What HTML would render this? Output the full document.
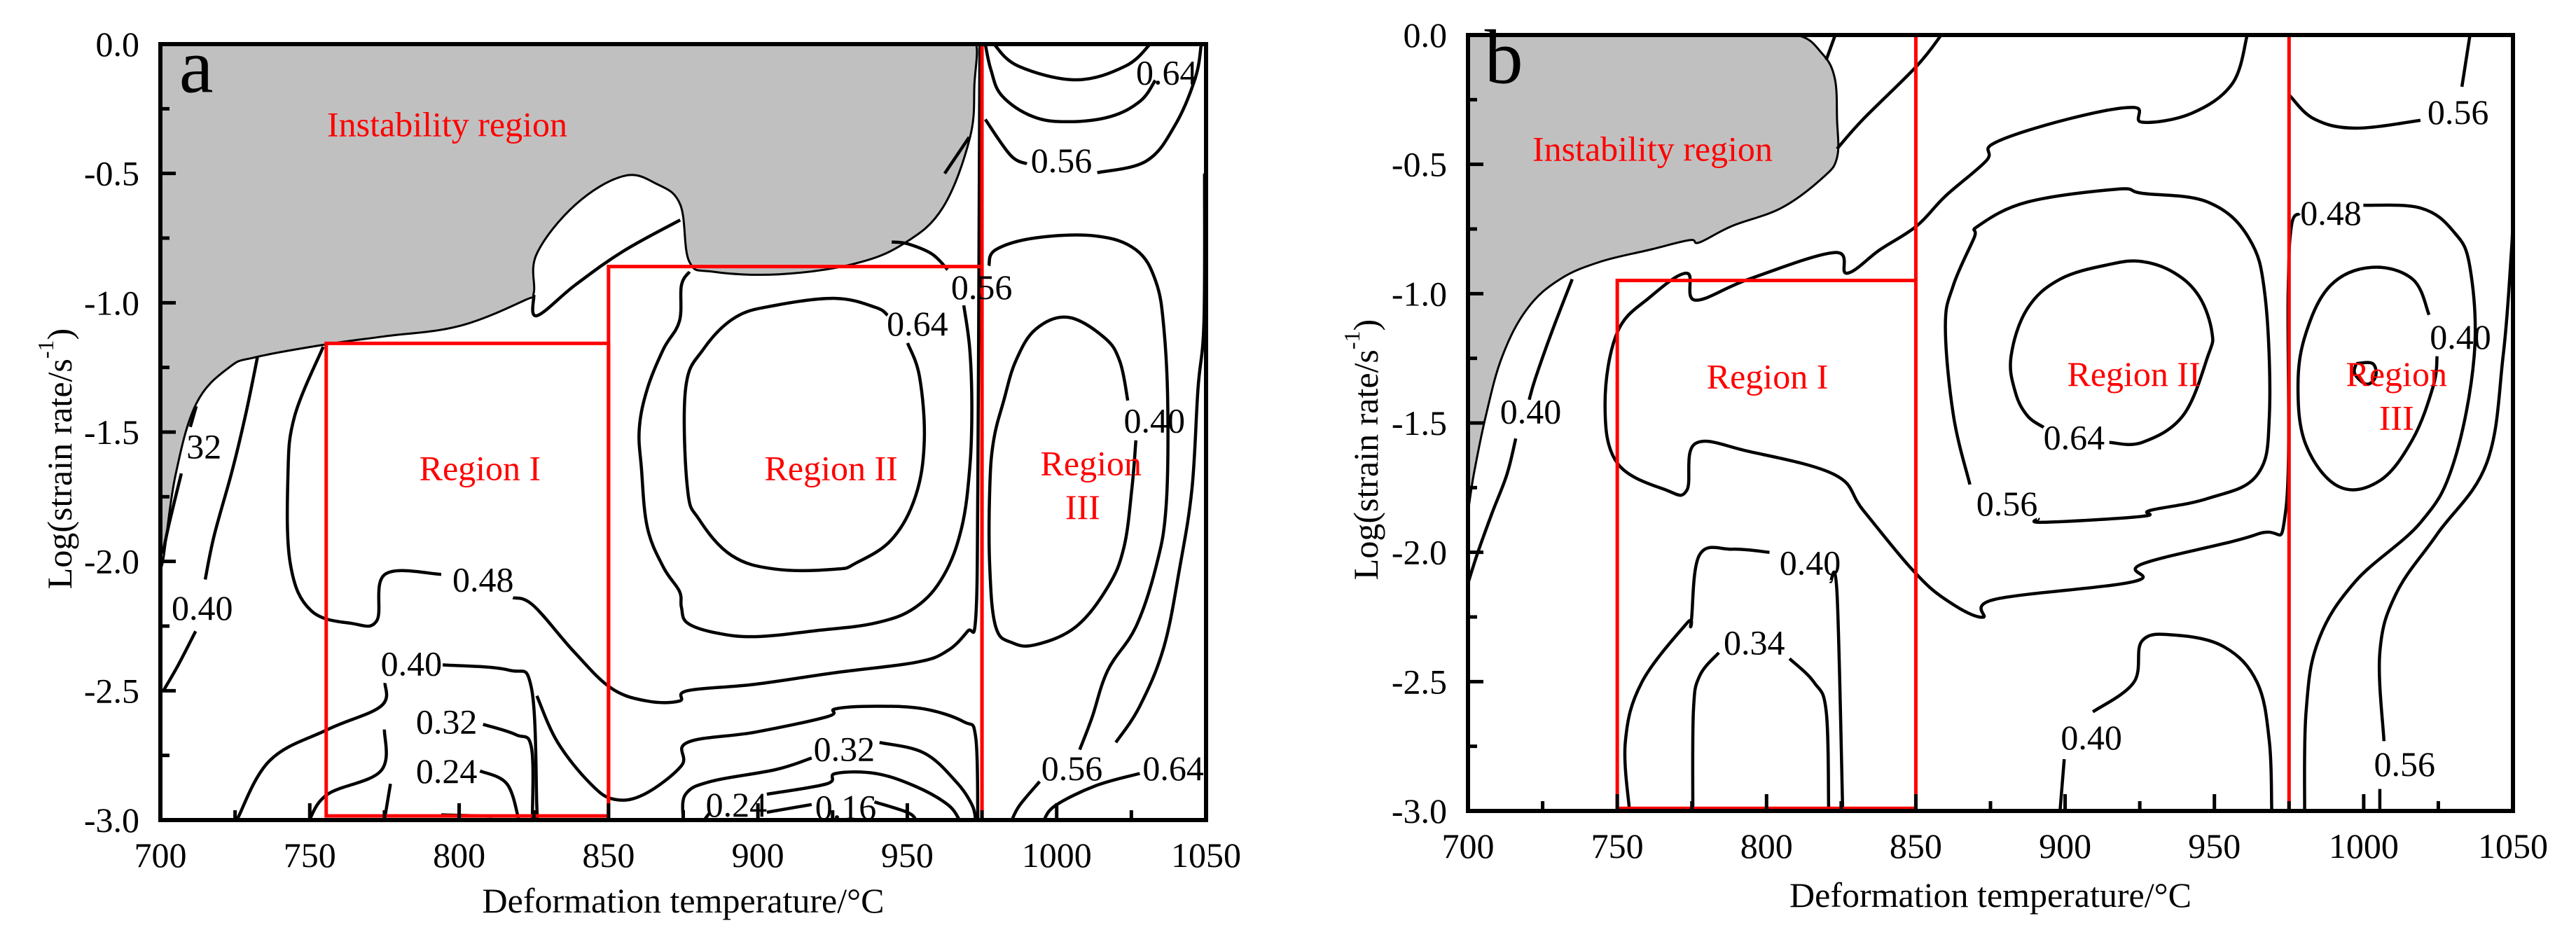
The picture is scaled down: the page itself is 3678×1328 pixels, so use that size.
<!DOCTYPE html>
<html><head><meta charset="utf-8"><style>
html,body{margin:0;padding:0;background:#fff;}
svg{display:block;font-family:"Liberation Serif",serif;}
</style></head><body>
<svg id="fig" width="3678" height="1328" viewBox="0 0 3678 1328" xmlns="http://www.w3.org/2000/svg">
<rect x="0" y="0" width="3678" height="1328" fill="#fff"/>
</svg>
<script>
// ---------- data: panel a ----------
const xTicks = [700,750,800,850,900,950,1000,1050];
const yTicks = [0,-0.5,-1,-1.5,-2,-2.5,-3];
const yTickLabels = ["0.0","-0.5","-1.0","-1.5","-2.0","-2.5","-3.0"];

const aGray = [[700,0],[720,0],[900,0],[968,0],[973,0],[972.5,-0.15],[971,-0.36],[962,-0.63],[949,-0.77],[932,-0.85],[907,-0.89],[885,-0.88],[877,-0.84],[874,-0.62],[866,-0.54],[855,-0.51],[839,-0.62],[826,-0.81],[825,-0.96],[822,-0.99],[800,-1.09],[775,-1.13],[756,-1.16],[732,-1.21],[723,-1.25],[712,-1.39],[705,-1.67],[701,-1.99],[700,-2.0],[700,-1.9]];
const aContours = [
 [[874,-0.68],[855,-0.80],[839,-0.93],[826,-1.05],[825,-0.97]],
 [[732.5,-1.21],[728.4,-1.44],[724,-1.65],[718,-1.90],[715,-2.07]],
 [[711.8,-2.27],[706,-2.40],[701,-2.50]],
 [[712,-1.40],[710,-1.48]],
 [[707,-1.66],[703,-1.85],[700.8,-1.97]],
 [[754.5,-1.17],[744.9,-1.44],[742.7,-1.67],[743.5,-2.01],[750.4,-2.19],[764.2,-2.24],[772.4,-2.23],[775.2,-2.05],[794,-2.05]],
 [[818,-2.14],[824.8,-2.17],[838.5,-2.35],[850.9,-2.49],[863,-2.54],[873.7,-2.54],[876.4,-2.50],[899,-2.475],[926,-2.43],[953,-2.39],[963.5,-2.345],[970.2,-2.27],[972.9,-2.22],[973.6,-1.72],[974,-0.8],[974.3,0]],
 [[775.2,-2.47],[773.8,-2.56],[756,-2.65],[736.6,-2.77],[725.6,-3]],
 [[794.5,-2.40],[816.5,-2.42],[824.2,-2.49],[826,-2.95],[826.1,-3]],
 [[826,-2.52],[833,-2.70],[844,-2.86],[852,-2.92],[862,-2.90],[874.4,-2.79],[876.4,-2.70],[899.2,-2.66],[923.3,-2.60],[926,-2.57],[939.4,-2.56],[955.5,-2.57],[968.9,-2.62],[972.9,-2.68],[973.6,-3]],
 [[875,-3],[875.8,-2.90],[884.5,-2.85],[905.9,-2.805],[918,-2.76]],
 [[940.7,-2.70],[955.5,-2.74],[966.2,-2.85],[971.6,-2.94],[972.9,-3]],
 [[903,-2.90],[923,-2.86],[926,-2.82],[939.4,-2.82],[952.8,-2.87],[963.5,-2.94],[967.5,-3]],
 [[882,-3],[884,-2.97]],
 [[903,-2.97],[918,-2.94]],
 [[939,-2.93],[950,-2.97],[953,-3]],
 [[775,-2.65],[773.8,-2.81],[756,-2.90],[749.8,-3]],
 [[808,-2.63],[819,-2.67],[824.2,-2.72],[824.5,-3]],
 [[777,-2.86],[775,-3]],
 [[807,-2.81],[816,-2.86],[820,-3]],
 [[794,-2.98],[811,-2.985]],
 [[950.1,-1.156],[954.1,-1.286],[955.7,-1.532],[952.8,-1.746],[944.8,-1.915],[932.7,-2.007],[926,-2.03],[905.9,-2.03],[891.2,-1.977],[880.4,-1.839],[876.4,-1.716],[875.8,-1.332],[881.8,-1.179],[892.5,-1.056],[905.9,-1.01],[926,-0.983],[939.4,-1.018],[943.4,-1.048]],
 [[968.9,-1.01],[970.9,-1.179],[971.6,-1.409],[970.9,-1.639],[968.2,-1.869],[962.2,-2.054],[952.8,-2.177],[939.4,-2.238],[919.3,-2.268],[899.2,-2.291],[885.8,-2.276],[876.4,-2.238],[874.4,-2.177],[873.7,-2.115],[868.4,-2.023],[863,-1.869],[861,-1.639],[860.3,-1.486],[863,-1.332],[868.4,-1.179],[873.7,-1.072],[874.4,-0.933],[877.1,-0.88]],
 [[963.5,-0.872],[958.2,-0.811],[950.1,-0.772],[944.8,-0.765]],
 [[1026.5,-1.532],[1025.2,-1.716],[1022.5,-1.946],[1017.1,-2.099],[1006.4,-2.253],[993,-2.322],[985,-2.314],[979.6,-2.253],[977.6,-2.023],[977.6,-1.716],[978.9,-1.532],[982.3,-1.378],[986.3,-1.225],[993,-1.102],[1003.7,-1.056],[1015.8,-1.133],[1021.1,-1.225],[1023.8,-1.378]],
 [[977.3,-0.857],[979.6,-0.795],[993,-0.749],[1013.1,-0.742],[1026.5,-0.795],[1033.2,-0.918],[1035.9,-1.102],[1037.2,-1.409],[1036.6,-1.793],[1033.2,-2.023],[1026.5,-2.253],[1017.1,-2.421],[1011.8,-2.605],[1007.7,-2.728]],
 [[994.3,-2.851],[987.6,-2.943],[985,-3]],
 [[1049.5,-0.5],[1049.3,-1.072],[1047.3,-1.332],[1045.3,-1.716],[1041.2,-2.023],[1035.9,-2.33],[1027.8,-2.56],[1019.8,-2.70]],
 [[1027.8,-2.82],[1013.1,-2.867],[999.7,-2.943],[995.7,-3]],
 [[979,0],[987.2,-0.085],[1006.5,-0.138],[1023,-0.085],[1031.3,0]],
 [[976.1,0],[978,-0.1],[981.7,-0.2],[992,-0.28],[1003.8,-0.30],[1018,-0.28],[1028,-0.22],[1033,-0.14]],
 [[976.1,-0.291],[984.5,-0.429],[990,-0.463]],
 [[1013.6,-0.497],[1030,-0.452],[1039.6,-0.314],[1046.4,-0.131],[1048.4,0]],
 [[962.5,-0.50],[970.7,-0.36]]
];
const aLevelText = ["0.64","0.56","0.56","0.64","0.40","32","0.40","0.48","0.40","0.32","0.24","0.32","0.24","0.16","0.56","0.64"];
const aLevelPos = [[1036.8,-0.11],[1001.6,-0.45],[974.9,-0.94],[953.4,-1.08],[1032.7,-1.455],[714.6,-1.556],[714,-2.18],[808,-2.07],[784,-2.395],[795.8,-2.62],[795.8,-2.81],[928.9,-2.725],[892.8,-2.94],[929.4,-2.95],[1005.1,-2.80],[1039,-2.80]];
const aRectI = [755.5,-1.157,850,-2.984];
const aRectII = [850,-0.86,975,-3];
const aRedLine = [975,0,-3];
const aRegionText = ["Instability region","Region I","Region II","Region","III"];
const aRegionPos = [[796,-0.31],[807,-1.64],[924.5,-1.64],[1011.5,-1.62],[1008.7,-1.79]];

// ---------- data: panel b ----------
const bGray = [[700,0],[720,0],[790,0],[810,0],[818.5,-0.07],[822.8,-0.165],[823.6,-0.325],[823.6,-0.474],[818.5,-0.555],[804.9,-0.669],[788.5,-0.738],[777.5,-0.802],[774.2,-0.793],[761,-0.830],[744.5,-0.876],[730.8,-0.944],[719.8,-1.059],[711.5,-1.242],[706,-1.471],[701.9,-1.701],[700,-1.838],[700,-1.75]];
const bContours = [
 [[734.9,-0.944],[728,-1.15],[722.5,-1.33],[720.5,-1.41]],
 [[716,-1.56],[713,-1.70],[708,-1.85],[703.3,-2.0],[700,-2.12]],
 [[820,-0.096],[823,0]],
 [[823.6,-0.44],[832.4,-0.325],[850.3,-0.12],[858.5,0]],
 [[961,0],[956,-0.188],[942.3,-0.303],[925.8,-0.337],[923,-0.280],[901,-0.325],[876.4,-0.417],[873.6,-0.486],[859.9,-0.623],[850.3,-0.738],[838,-0.830],[826.9,-0.921],[822.8,-0.841],[794,-0.944],[776.1,-1.025],[773.3,-0.921],[761,-1.013],[750,-1.15],[745.9,-1.426],[750,-1.655],[766.5,-1.76],[773.3,-1.76],[776.1,-1.58],[794,-1.61],[822.8,-1.70],[832.4,-1.838],[848.8,-2.067],[859.9,-2.182],[872.2,-2.251],[876.4,-2.182],[923,-2.113],[925.8,-2.045],[964.3,-1.93],[973.9,-1.838],[974.7,-1.0],[975.8,-0.738],[978.5,-0.69]],
 [[999.9,-0.658],[1019.1,-0.669],[1030.1,-0.76],[1035.6,-0.898],[1037,-1.242],[1030.1,-1.655],[1019.1,-1.884],[997.2,-2.113],[984.8,-2.342],[980.7,-2.617],[980.2,-3]],
 [[1050,-0.70],[1049.4,-0.853],[1046.7,-1.242],[1041.2,-1.655],[1024.6,-1.93],[1010.9,-2.159],[1005.4,-2.388],[1006.8,-2.73]],
 [[1005.4,-2.915],[1005.4,-3]],
 [[975.2,-0.234],[983.5,-0.325],[997.2,-0.36],[1019,-0.33]],
 [[1032.9,-0.2],[1035.6,0]],
 [[1021.9,-1.082],[1016.4,-0.944],[1002.7,-0.898],[989,-0.967],[980.7,-1.151],[978,-1.357],[980.7,-1.586],[991.7,-1.746],[1005.4,-1.723],[1016.4,-1.563],[1023.3,-1.357],[1024.6,-1.242]],
 [[997.5,-1.27],[1003,-1.27],[1004,-1.32],[1001,-1.35],[997,-1.31],[997.5,-1.27]],
 [[914.8,-1.575],[925.8,-1.575],[939.5,-1.471],[947.8,-1.242],[949.2,-1.151],[945,-1.013],[936.8,-0.921],[925.8,-0.876],[914.8,-0.887],[898.3,-0.944],[887.3,-1.059],[881.9,-1.242],[883.3,-1.380],[887.3,-1.471],[892.8,-1.517]],
 [[868.1,-1.738],[862.6,-1.471],[859.9,-1.128],[862.6,-0.967],[869.5,-0.784],[870.9,-0.738],[887.3,-0.646],[917.5,-0.596],[925.8,-0.612],[947.8,-0.646],[961.5,-0.784],[967,-1.013],[968.4,-1.471],[964.3,-1.701],[947.8,-1.792],[928.5,-1.838],[925.8,-1.861],[892.8,-1.884],[891,-1.87]],
 [[801,-2.0],[788.5,-1.988],[777.5,-2.011],[774.7,-2.274],[773.3,-2.274],[758.2,-2.503],[752.7,-2.732],[754.1,-3]],
 [[821.4,-2.113],[823.6,-2.159],[825.5,-3]],
 [[807.7,-2.411],[815.9,-2.503],[820,-2.617],[820.8,-3]],
 [[784,-2.388],[777.5,-2.48],[775.5,-2.617],[775.3,-3]],
 [[909.3,-2.617],[923,-2.503],[925.8,-2.342],[936.8,-2.320],[953.3,-2.366],[964.3,-2.503],[968.4,-2.732],[969.2,-3]],
 [[899.7,-2.8],[898.3,-3]]
];
const bLevelText = ["0.56","0.48","0.40","0.40","0.64","0.56","0.40","0.34","0.40","0.56"];
const bLevelPos = [[1031.6,-0.298],[989,-0.688],[1032.4,-1.167],[721,-1.455],[903,-1.556],[880.5,-1.811],[814.6,-2.04],[795.9,-2.349],[908.8,-2.716],[1013.7,-2.819]];
const bRectI = [750,-0.949,850,-2.99];
const bRedLines = [[850,0,-0.949],[975,0,-3]];
const bRegionText = ["Instability region","Region I","Region II","Region","III"];
const bRegionPos = [[761.8,-0.44],[800.3,-1.32],[923,-1.31],[1011,-1.31],[1011,-1.48]];

// ---------- drawing ----------
const NS = "http://www.w3.org/2000/svg";
const svg = document.getElementById("fig");
function el(tag, parent){ const e=document.createElementNS(NS,tag); parent.appendChild(e); return e; }

function smoothPath(pts, sx, sy, closed){
  const p = pts.map(q=>[sx(q[0]), sy(q[1])]);
  if(p.length<3){ return "M"+p.map(q=>q[0].toFixed(1)+","+q[1].toFixed(1)).join(" L"); }
  let d = "M"+p[0][0].toFixed(1)+","+p[0][1].toFixed(1);
  for(let i=0;i<p.length-1;i++){
    const p0=p[Math.max(0,i-1)], p1=p[i], p2=p[i+1], p3=p[Math.min(p.length-1,i+2)];
    const t=0.18;
    const c1=[p1[0]+(p2[0]-p0[0])*t, p1[1]+(p2[1]-p0[1])*t];
    const c2=[p2[0]-(p3[0]-p1[0])*t, p2[1]-(p3[1]-p1[1])*t];
    d+=" C"+c1[0].toFixed(1)+","+c1[1].toFixed(1)+" "+c2[0].toFixed(1)+","+c2[1].toFixed(1)+" "+p2[0].toFixed(1)+","+p2[1].toFixed(1);
  }
  if(closed) d+=" Z";
  return d;
}

function drawPanel(cfg){
  const {id,left,top,right,bottom,gray,contours,levelText,levelPos,regionText,regionPos,letter} = cfg;
  const sx = T => left + (T-700)/350*(right-left);
  const sy = L => top + (-L)/3*(bottom-top);
  const g = el("g", svg);
  
  

  const cp = el("clipPath", g);
  cp.setAttribute("id","clip-"+id);
  const cr = el("rect", cp);
  cr.setAttribute("x",left); cr.setAttribute("y",top);
  cr.setAttribute("width",right-left); cr.setAttribute("height",bottom-top);

  const plot = el("g", g);
  plot.setAttribute("clip-path","url(#clip-"+id+")");
  
  

  const gp = el("path", plot);
  gp.setAttribute("d", smoothPath(gray, sx, sy, true));
  gp.setAttribute("fill","#c0c0c0");
  gp.setAttribute("stroke","#000");
  gp.setAttribute("stroke-width","3");
  
  

  contours.forEach((c,i)=>{
    const p = el("path", plot);
    p.setAttribute("d", smoothPath(c, sx, sy, false));
    p.setAttribute("fill","none");
    p.setAttribute("stroke","#000");
    p.setAttribute("stroke-width","4.5");
    p.setAttribute("stroke-linejoin","round");
    
    
  });

  cfg.rects.forEach((r,i)=>{
    const rr = el("rect", plot);
    rr.setAttribute("x", sx(r[0])); rr.setAttribute("y", sy(r[1]));
    rr.setAttribute("width", sx(r[2])-sx(r[0])); rr.setAttribute("height", sy(r[3])-sy(r[1]));
    rr.setAttribute("fill","none"); rr.setAttribute("stroke","#ff0000"); rr.setAttribute("stroke-width","5");
    
    
  });
  cfg.redLines.forEach((l,i)=>{
    const ln = el("line", plot);
    ln.setAttribute("x1", sx(l[0])); ln.setAttribute("x2", sx(l[0]));
    ln.setAttribute("y1", sy(l[1])); ln.setAttribute("y2", sy(l[2]));
    ln.setAttribute("stroke","#ff0000"); ln.setAttribute("stroke-width","5");
    
    
  });

  levelText.forEach((t,i)=>{
    const tx = el("text", g);
    tx.setAttribute("x", sx(levelPos[i][0])); tx.setAttribute("y", sy(levelPos[i][1]));
    tx.setAttribute("text-anchor","middle"); tx.setAttribute("dominant-baseline","central");
    tx.setAttribute("font-size","50"); tx.setAttribute("fill","#000");
    tx.textContent = t;
    
    
  });
  regionText.forEach((t,i)=>{
    const tx = el("text", g);
    tx.setAttribute("x", sx(regionPos[i][0])); tx.setAttribute("y", sy(regionPos[i][1]));
    tx.setAttribute("text-anchor","middle"); tx.setAttribute("dominant-baseline","central");
    tx.setAttribute("font-size","50"); tx.setAttribute("fill","#ff0000");
    tx.textContent = t;
    
    
  });

  const lt = el("text", g);
  lt.setAttribute("x", sx(712)); lt.setAttribute("y", sy(-0.085));
  lt.setAttribute("text-anchor","middle"); lt.setAttribute("dominant-baseline","central");
  lt.setAttribute("font-size","110"); lt.setAttribute("fill","#000");
  lt.textContent = letter;
  
  

  const fr = el("rect", g);
  fr.setAttribute("x",left); fr.setAttribute("y",top);
  fr.setAttribute("width",right-left); fr.setAttribute("height",bottom-top);
  fr.setAttribute("fill","none"); fr.setAttribute("stroke","#000"); fr.setAttribute("stroke-width","6");
  
  

  for(let T=700; T<=1050; T+=25){
    const major = (T%50===0);
    const tk = el("line", g);
    tk.setAttribute("x1", sx(T)); tk.setAttribute("x2", sx(T));
    tk.setAttribute("y1", bottom); tk.setAttribute("y2", bottom-(major?24:14));
    tk.setAttribute("stroke","#000"); tk.setAttribute("stroke-width","5");
    
    
  }
  xTicks.forEach(T=>{
    const tx = el("text", g);
    tx.setAttribute("x", sx(T)); tx.setAttribute("y", bottom+50);
    tx.setAttribute("text-anchor","middle"); tx.setAttribute("dominant-baseline","central");
    tx.setAttribute("font-size","50");
    tx.textContent = String(T);
    
    
  });
  for(let k=0; k<=12; k++){
    const L = -k*0.25;
    const major = (k%2===0);
    const tk = el("line", g);
    tk.setAttribute("x1", left); tk.setAttribute("x2", left+(major?22:13));
    tk.setAttribute("y1", sy(L)); tk.setAttribute("y2", sy(L));
    tk.setAttribute("stroke","#000"); tk.setAttribute("stroke-width","5");
    
    
  }
  yTicks.forEach((L,i)=>{
    const tx = el("text", g);
    tx.setAttribute("x", left-30); tx.setAttribute("y", sy(L));
    tx.setAttribute("text-anchor","end"); tx.setAttribute("dominant-baseline","central");
    tx.setAttribute("font-size","50");
    tx.textContent = yTickLabels[i];
    
    
  });

  const xt = el("text", g);
  xt.setAttribute("x", (left+right)/2); xt.setAttribute("y", cfg.xTitleY);
  xt.setAttribute("text-anchor","middle"); xt.setAttribute("dominant-baseline","central");
  xt.setAttribute("font-size","50");
  xt.textContent = "Deformation temperature/°C";
  
  

  const yt = el("text", g);
  yt.setAttribute("transform", "translate("+cfg.yTitleX+","+cfg.yTitleY+") rotate(-90)");
  yt.setAttribute("text-anchor","middle"); yt.setAttribute("dominant-baseline","central");
  yt.setAttribute("font-size","50");
  yt.innerHTML = 'Log(strain rate/s<tspan font-size="32" dy="-20">-1</tspan><tspan dy="20">)</tspan>';
  
  
}

drawPanel({id:"a", left:229, top:63, right:1722, bottom:1171, gray:aGray, contours:aContours,
  levelText:aLevelText, levelPos:aLevelPos, regionText:aRegionText, regionPos:aRegionPos, letter:"a",
  rects:[aRectI, aRectII], redLines:[aRedLine], xTitleY:1286, yTitleX:85, yTitleY:655});
drawPanel({id:"b", left:2096, top:50, right:3588, bottom:1158, gray:bGray, contours:bContours,
  levelText:bLevelText, levelPos:bLevelPos, regionText:bRegionText, regionPos:bRegionPos, letter:"b",
  rects:[bRectI], redLines:bRedLines, xTitleY:1278, yTitleX:1950, yTitleY:642});
</script>
</body></html>
